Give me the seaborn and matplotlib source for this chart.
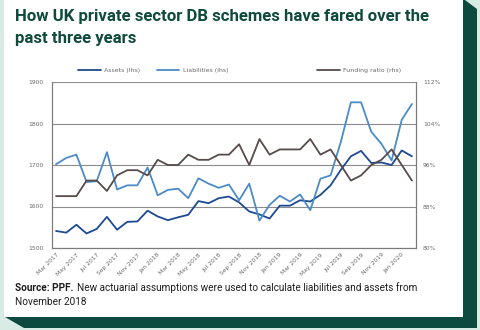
import numpy as np
import pandas as pd
import matplotlib
matplotlib.use("Agg")
import matplotlib.pyplot as plt
import seaborn as sns
from matplotlib.patches import Polygon, Rectangle
from matplotlib.ticker import MultipleLocator, FuncFormatter

# Monthly data, Mar 2017 - Feb 2020
months = pd.date_range("2017-03-01", periods=36, freq="MS")
assets = [1541, 1537, 1556, 1535, 1546, 1575, 1544, 1563, 1564, 1590, 1576, 1567,
          1574, 1580, 1613, 1608, 1620, 1624, 1610, 1588, 1581, 1571, 1602, 1602,
          1615, 1612, 1628, 1651, 1688, 1721, 1734, 1705, 1706, 1700, 1735, 1721]
liabilities = [1702, 1717, 1725, 1659, 1661, 1731, 1641, 1651, 1651, 1694, 1627, 1640,
               1643, 1620, 1668, 1655, 1645, 1653, 1615, 1655, 1566, 1604, 1626, 1612,
               1629, 1591, 1667, 1675, 1755, 1851, 1851, 1780, 1751, 1711, 1809, 1847]
funding_ratio = [90, 90, 90, 93, 93, 91, 94, 95, 95, 94, 97, 96,
                 96, 98, 97, 97, 98, 98, 100, 96, 101, 98, 99, 99,
                 99, 101, 98, 99, 96, 93, 94, 96, 97, 99, 96, 93]
tick_labels = ["Mar 2017", "May 2017", "Jul 2017", "Sep 2017", "Nov 2017", "Jan 2018",
               "Mar 2018", "May 2018", "Jul 2018", "Sep 2018", "Nov 2018", "Jan 2019",
               "Mar 2019", "May 2019", "Jul 2019", "Sep 2019", "Nov 2019", "Jan 2020"]

df = pd.DataFrame({"idx": np.arange(len(months)), "month": months,
                   "Assets (lhs)": assets, "Liabilities (lhs)": liabilities,
                   "Funding ratio (rhs)": funding_ratio})

sns.set_style("white")
plt.rcParams["font.family"] = ["Roboto", "DejaVu Sans"]

W, H = 480, 330
fig = plt.figure(figsize=(W / 100, H / 100), dpi=100)
fig.patch.set_facecolor("#d9ebe5")

def fx(px):
    return px / W

def fy(py):
    return 1 - py / H

DARK_GREEN = "#0c4a40"
# card shadow and card
shadow = [(463, 0), (465, 0), (477, 9), (477, 328), (24, 328), (5, 317), (463, 317)]
fig.patches.append(Polygon([(fx(x), fy(y)) for x, y in shadow], closed=True,
                           transform=fig.transFigure, facecolor=DARK_GREEN,
                           edgecolor="none", zorder=-2))
fig.patches.append(Rectangle((fx(4), fy(317)), fx(463) - fx(4), fy(0) - fy(317),
                             transform=fig.transFigure, facecolor="white",
                             edgecolor="none", zorder=-1))

# title
fig.text(fx(15), fy(17), "How UK private sector DB schemes have fared over the",
         fontsize=12.1, fontweight="bold", color="#0f4a3c", va="center", ha="left")
fig.text(fx(15), fy(38), "past three years",
         fontsize=12.1, fontweight="bold", color="#0f4a3c", va="center", ha="left")

# chart axes
ax = fig.add_axes([fx(52), fy(248), fx(416) - fx(52), fy(82) - fy(248)])
ax.set_facecolor("white")
c_assets, c_liab, c_fund = "#1d4a92", "#4b8bc8", "#574b4b"

sns.lineplot(data=df, x="idx", y="Assets (lhs)", ax=ax, color=c_assets, lw=1.3,
             label="Assets (lhs)", legend=False)
sns.lineplot(data=df, x="idx", y="Liabilities (lhs)", ax=ax, color=c_liab, lw=1.3,
             label="Liabilities (lhs)", legend=False)
ax2 = ax.twinx()
sns.lineplot(data=df, x="idx", y="Funding ratio (rhs)", ax=ax2, color=c_fund, lw=1.3,
             label="Funding ratio (rhs)", legend=False)

ax.set_xlim(-0.4, 35.4)
ax.set_ylim(1500, 1900)
ax2.set_ylim(80, 112)
ax.set_yticks([1500, 1600, 1700, 1800, 1900])
ax2.set_yticks([80, 88, 96, 104, 112])
ax2.yaxis.set_major_formatter(FuncFormatter(lambda v, p: f"{int(v)}%"))
ax.set_xticks(np.arange(0, 36, 2))
ax.set_xticklabels(tick_labels, rotation=45, ha="right", rotation_mode="anchor")
ax.xaxis.set_minor_locator(MultipleLocator(1))
ax.set_xlabel("")
ax.set_ylabel("")
ax2.set_ylabel("")

ax.grid(axis="y", color="#8c8c8c", lw=0.8)
ax.set_axisbelow(True)
grey = "#7a7a7a"
for a in (ax, ax2):
    a.spines["top"].set_visible(False)
    for side in ("left", "right", "bottom"):
        a.spines[side].set_color(grey)
        a.spines[side].set_linewidth(0.8)

lab_family = ["Liberation Sans Narrow", "DejaVu Sans"]
ax.tick_params(axis="x", which="both", direction="in", length=3, width=0.6,
               color=grey, labelsize=4.3, labelcolor="#6a6a6a", pad=3)
ax.tick_params(axis="y", length=0, labelsize=4.3, labelcolor="#6a6a6a", pad=6)
ax2.tick_params(axis="y", length=0, labelsize=4.3, labelcolor="#6a6a6a", pad=5)
for t in ax.get_xticklabels() + ax.get_yticklabels() + ax2.get_yticklabels():
    t.set_fontfamily(lab_family)

# legends
h1, l1 = ax.get_legend_handles_labels()
h2, l2 = ax2.get_legend_handles_labels()
leg_kw = dict(frameon=False, handlelength=3.6, handletextpad=0.6,
              prop=dict(family=lab_family, size=4.5), labelcolor="#6a6a6a",
              borderaxespad=0, borderpad=0)
leg1 = fig.legend(h1, l1, loc="center left", bbox_to_anchor=(fx(78), fy(70)),
                  ncol=2, columnspacing=2.6, **leg_kw)
leg2 = fig.legend(h2, l2, loc="center left", bbox_to_anchor=(fx(317), fy(70)), **leg_kw)

# source note
fig.canvas.draw()
src_bold = fig.text(fx(15), fy(288), "Source: PPF.", fontsize=7.2, fontweight="bold",
                    color="#1e1e1e", va="center", ha="left")
fig.canvas.draw()
bb = src_bold.get_window_extent()
fig.text(bb.x1 / W + fx(3), fy(288),
         "New actuarial assumptions were used to calculate liabilities and assets from",
         fontsize=7.2, color="#1e1e1e", va="center", ha="left")
fig.text(fx(15), fy(302), "November 2018", fontsize=7.2, color="#1e1e1e",
         va="center", ha="left")

fig.savefig("out.png", dpi=100, facecolor=fig.get_facecolor())
